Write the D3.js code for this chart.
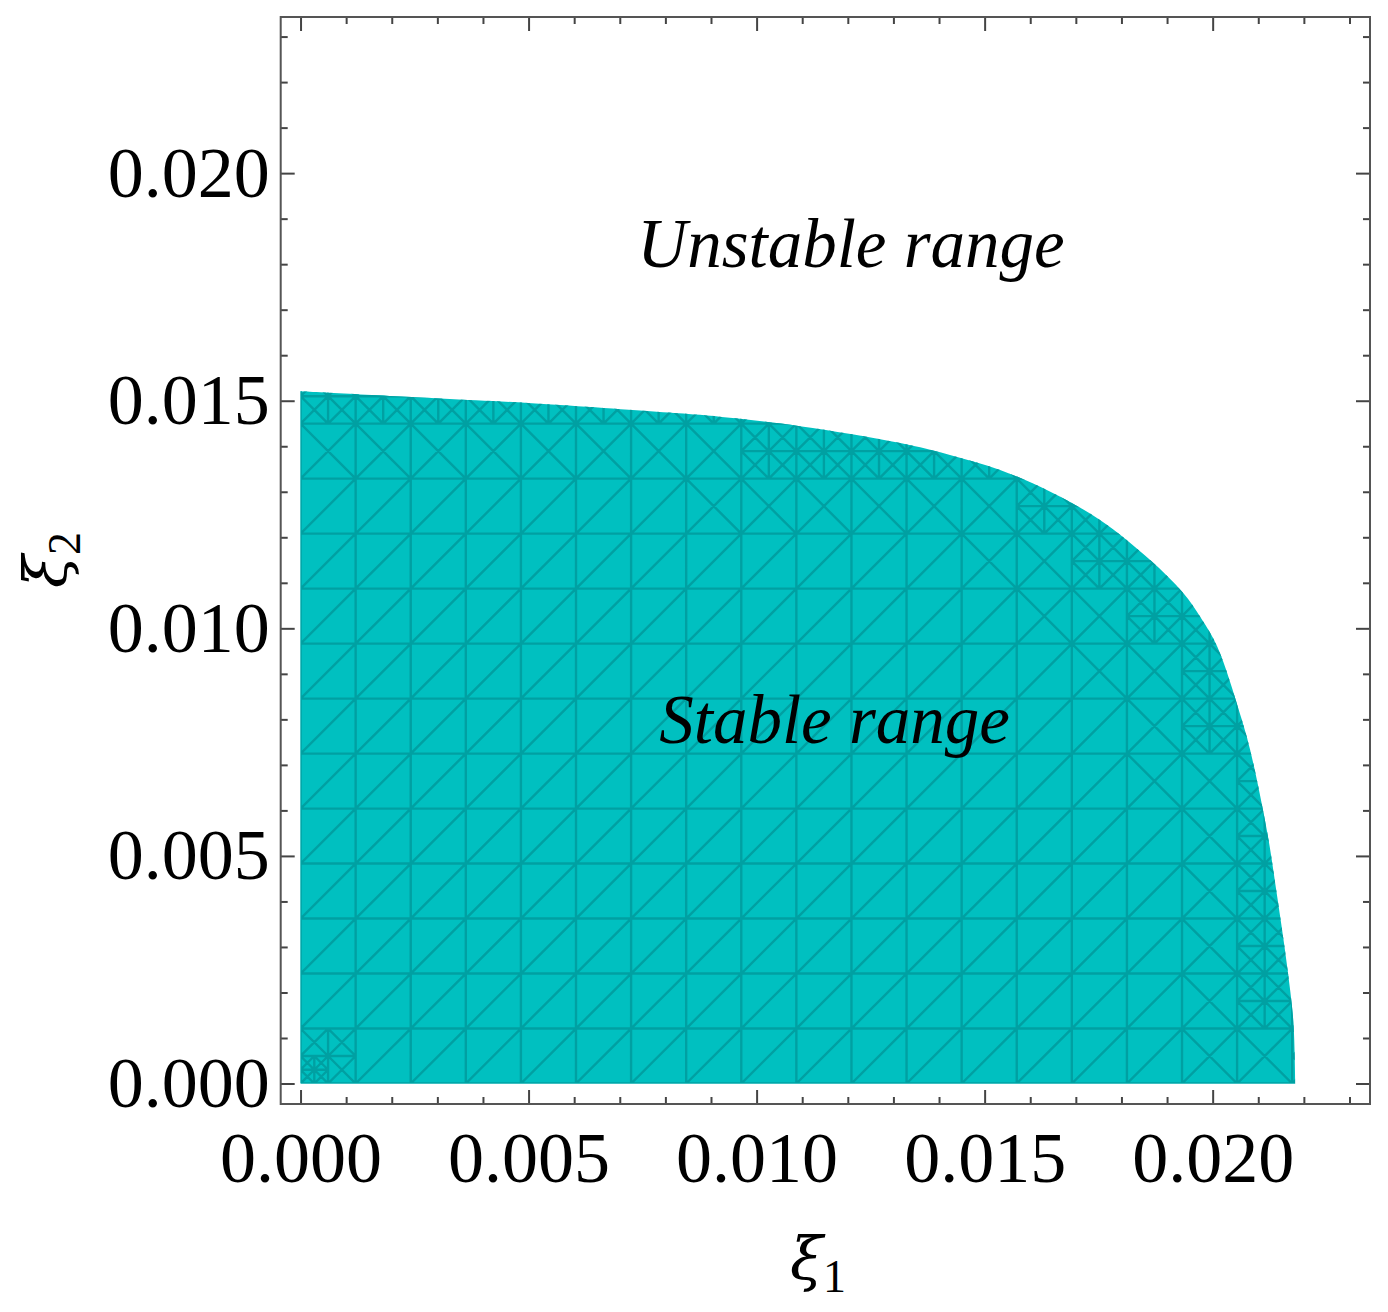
<!DOCTYPE html>
<html>
<head>
<meta charset="utf-8">
<script src="https://cdn.jsdelivr.net/npm/d3@7"></script>
<style>
  body { margin: 0; background: #fff; }
  text { font-family: "Liberation Serif", "Times New Roman", serif; fill: #000; }
</style>
</head>
<body>
<div id="chart"></div>
<script>
// edge of the stable region (xi1, xi2)
const xi1Boundary = [0, 0.00306, 0.00499, 0.00781, 0.00876, 0.01095, 0.01315, 0.01424, 0.01534,
    0.01644, 0.01753, 0.01863, 0.01935, 0.01973, 0.02010, 0.02060, 0.02082, 0.02120, 0.02141,
    0.02163, 0.02177, 0.02181];
const xi2Boundary = [0.01521, 0.01505, 0.01495, 0.01476, 0.01469, 0.01444, 0.01407, 0.01381, 0.01348,
    0.01300, 0.01238, 0.01150, 0.01078, 0.01025, 0.00960, 0.00812, 0.00734, 0.00550, 0.00414,
    0.00260, 0.00135, 0];

const majorTicks = [0, 0.005, 0.010, 0.015, 0.020];
const tickLabels = ["0.000", "0.005", "0.010", "0.015", "0.020"];
const regionNames = ["Unstable range", "Stable range"];

const width = 1388, height = 1312;
const meshStep = 0.001208;   // sampling grid of the region plot

const svg = d3.select("#chart").append("svg")
    .attr("width", width)
    .attr("height", height);

const x = d3.scaleLinear().domain([-0.000435, 0.02345]).range([280.7, 1370]);
const y = d3.scaleLinear().domain([-0.00045, 0.02343]).range([1104, 17]);

// ---- region ----
const edge = xi1Boundary.map((d, i) => [d, xi2Boundary[i]]);
const regionLine = d3.line()
    .x(d => x(d[0]))
    .y(d => y(d[1]))
    .curve(d3.curveCatmullRom.alpha(0.5));
const regionPath = `M${x(0)},${y(0)}L` + regionLine(edge).slice(1) + "Z";

svg.append("clipPath").attr("id", "regionClip")
    .append("path").attr("d", regionPath);

svg.append("path")
    .attr("d", regionPath)
    .attr("fill", "#00c0c0");

// mesh: square cells with a diagonal, refined where the edge passes
const edgeAt = d3.scaleLinear().domain(xi1Boundary).range(xi2Boundary).clamp(true);
const xEnd = xi1Boundary[xi1Boundary.length - 1];
const inside = (a, b) => a <= xEnd && b <= edgeAt(a);

function crosses(x0, y0, s, pad) {
    let hasIn = false, hasOut = false;
    const n = 6;
    for (let i = 0; i <= n; i++) {
        for (let j = 0; j <= n; j++) {
            const a = x0 - pad + (s + 2 * pad) * i / n;
            const b = y0 - pad + (s + 2 * pad) * j / n;
            if (inside(a, b)) hasIn = true; else hasOut = true;
        }
    }
    return hasIn && hasOut;
}

const segs = [];
function seg(a0, b0, a1, b1) { segs.push([a0, b0, a1, b1]); }

function cell(x0, y0, s, level) {
    const cut = crosses(x0, y0, s, 0);
    const corner = x0 === 0 && y0 === 0;   // the plot also refines its start corner
    if ((cut && level < 1) || (corner && level < 2)) {
        const h = s / 2;
        cell(x0, y0, h, level + 1);
        cell(x0 + h, y0, h, level + 1);
        cell(x0, y0 + h, h, level + 1);
        cell(x0 + h, y0 + h, h, level + 1);
        return;
    }
    if (!cut && !inside(x0, y0)) return;
    seg(x0, y0, x0 + s, y0);
    seg(x0, y0 + s, x0 + s, y0 + s);
    seg(x0, y0, x0, y0 + s);
    seg(x0 + s, y0, x0 + s, y0 + s);
    seg(x0, y0, x0 + s, y0 + s);
    const near = level > 0 || crosses(x0, y0, s, s);
    if (near) seg(x0, y0 + s, x0 + s, y0);
}

for (let i = 0; i < 19; i++) {
    for (let j = 0; j < 14; j++) {
        cell(i * meshStep, j * meshStep, meshStep, 0);
    }
}

svg.append("g")
    .attr("clip-path", "url(#regionClip)")
    .append("path")
    .attr("d", segs.map(d => `M${x(d[0])},${y(d[1])}L${x(d[2])},${y(d[3])}`).join(""))
    .attr("fill", "none")
    .attr("stroke", "#00a0a2")
    .attr("stroke-width", 2.4);

// ---- frame and ticks ----
const minorTicks = d3.range(0, 0.0235, 0.001).filter(v => !majorTicks.some(m => Math.abs(m - v) < 1e-9));

function drawAxis(axisFn, scale, values, size, tx, ty, labels, pad) {
    const ax = axisFn(scale).tickValues(values).tickSize(-size).tickSizeOuter(0)
        .tickPadding(pad || 0)
        .tickFormat((d, i) => labels ? labels[i] : "");
    const g = svg.append("g")
        .attr("transform", `translate(${tx},${ty})`)
        .call(ax);
    g.select(".domain").remove();
    g.selectAll(".tick line").attr("stroke", "#444").attr("stroke-width", 2);
    g.selectAll(".tick text")
        .attr("font-family", "'Liberation Serif', 'Times New Roman', serif")
        .attr("font-size", 72)
        .attr("fill", "#000");
    return g;
}

drawAxis(d3.axisBottom, x, majorTicks, 14, 0, 1104, tickLabels, 27);
drawAxis(d3.axisBottom, x, minorTicks, 7, 0, 1104);
drawAxis(d3.axisTop, x, majorTicks, 14, 0, 17);
drawAxis(d3.axisTop, x, minorTicks, 7, 0, 17);
drawAxis(d3.axisLeft, y, majorTicks, 14, 280.7, 0, tickLabels, 11);
drawAxis(d3.axisLeft, y, minorTicks, 7, 280.7, 0);
drawAxis(d3.axisRight, y, majorTicks, 14, 1370, 0);
drawAxis(d3.axisRight, y, minorTicks, 7, 1370, 0);

svg.append("rect")
    .attr("x", x.range()[0])
    .attr("y", y.range()[1])
    .attr("width", x.range()[1] - x.range()[0])
    .attr("height", y.range()[0] - y.range()[1])
    .attr("fill", "none")
    .attr("stroke", "#555")
    .attr("stroke-width", 2);

// ---- axis titles ----
const xTitle = svg.append("text")
    .attr("x", 818)
    .attr("y", 1280)
    .attr("text-anchor", "middle");
xTitle.append("tspan").attr("font-family", "'DejaVu Serif', serif")
    .attr("font-style", "italic").attr("font-size", 60).text("ξ");
xTitle.append("tspan").attr("font-size", 46).attr("dy", 12).text("1");

const yTitle = svg.append("text")
    .attr("transform", "translate(67,560) rotate(-90)")
    .attr("text-anchor", "middle");
yTitle.append("tspan").attr("font-family", "'DejaVu Serif', serif")
    .attr("font-style", "italic").attr("font-size", 60).text("ξ");
yTitle.append("tspan").attr("font-size", 46).attr("dy", 13).text("2");

// ---- region names ----
svg.append("text")
    .attr("x", x(0.01207))
    .attr("y", y(0.01794))
    .attr("text-anchor", "middle")
    .attr("font-style", "italic")
    .attr("font-size", 69)
    .text(regionNames[0]);

svg.append("text")
    .attr("x", x(0.01171))
    .attr("y", y(0.00748))
    .attr("text-anchor", "middle")
    .attr("font-style", "italic")
    .attr("font-size", 69)
    .text(regionNames[1]);
</script>
</body>
</html>
